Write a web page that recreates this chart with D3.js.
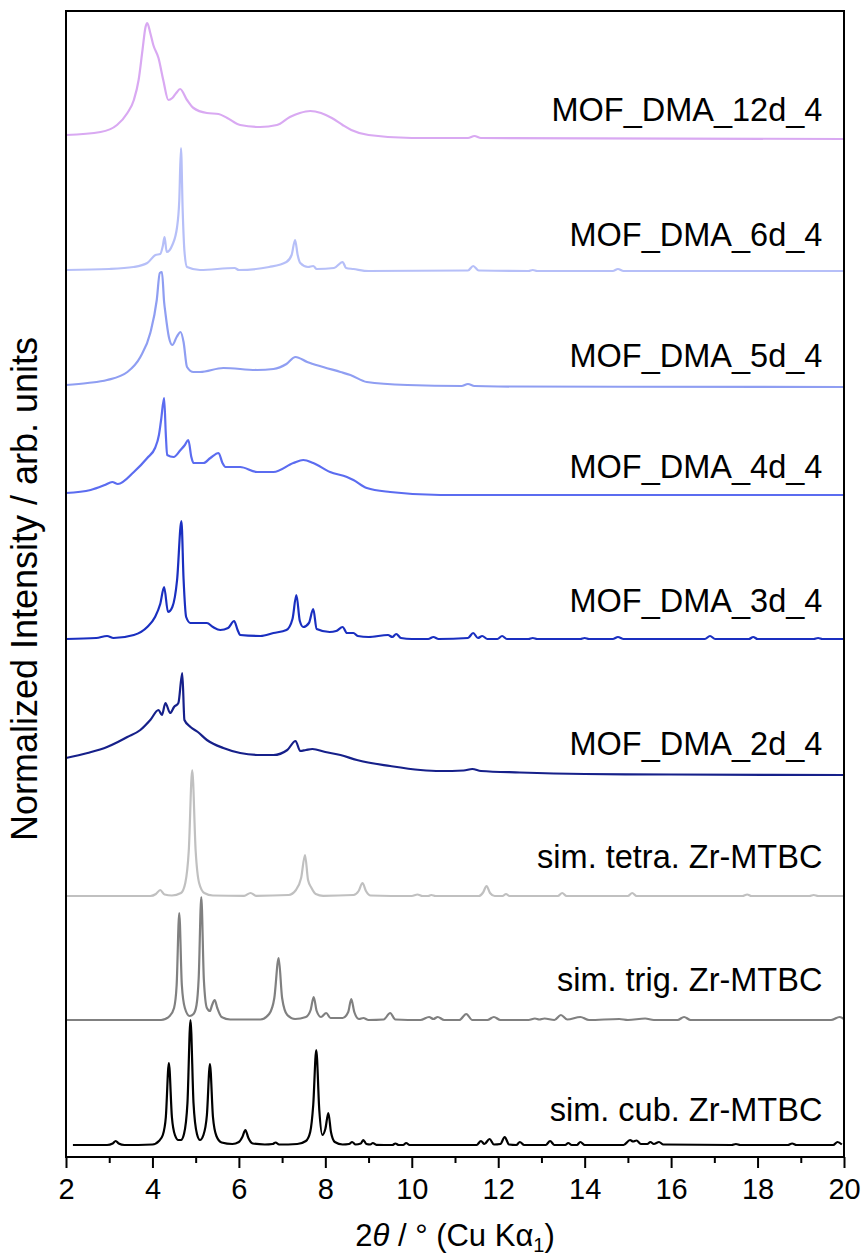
<!DOCTYPE html>
<html>
<head>
<meta charset="utf-8">
<script src="https://cdn.jsdelivr.net/npm/d3@7"></script>
<style>
  body { margin: 0; background: #ffffff; }
  svg { font-family: "Liberation Sans", Arial, sans-serif; }
</style>
</head>
<body>
<svg id="chart" width="863" height="1259"></svg>
<script>
// x axis
let xTicks = [2, 4, 6, 8, 10, 12, 14, 16, 18, 20];
let xMinorTicks = [3, 5, 7, 9, 11, 13, 15, 17, 19];

// pattern names (bottom to top), stacking offsets and label heights in intensity units
let names = ["sim. cub. Zr-MTBC", "sim. trig. Zr-MTBC", "sim. tetra. Zr-MTBC", "MOF_DMA_2d_4", "MOF_DMA_3d_4",
             "MOF_DMA_4d_4", "MOF_DMA_5d_4", "MOF_DMA_6d_4", "MOF_DMA_12d_4"];
let offsets = [1.2, 13.7, 26.1, 38.2, 51.8, 66.2, 77.0, 88.6, 101.8];
let labelLevels = [3.6, 16.6, 28.9, 40.2, 54.5, 67.9, 79.0, 91.1, 103.6];
let colors = ["#000000", "#808080", "#c0c0c0", "#16208a", "#1a2fc0", "#5b6cf0", "#8f9ef2", "#b6bff8", "#d9a9f2"];

// [2theta, normalized intensity above the pattern's baseline]
let cub = [[2.16,0],[2.95,0],[3.08,0.15],[3.15,0.4],[3.22,0.15],[3.35,0],[4.0,0.05],[4.15,0.4],[4.24,1.0],[4.31,2.8],[4.38,8.2],[4.45,2.8],[4.52,1.0],[4.6,0.5],[4.66,0.5],[4.73,1.1],[4.81,4.2],[4.88,12.5],[4.95,4.2],[5.03,1.1],[5.1,0.5],[5.18,1.0],[5.26,3.0],[5.33,8.1],[5.4,2.8],[5.48,0.9],[5.6,0.25],[5.85,0.1],[6.0,0.3],[6.08,0.8],[6.15,1.5],[6.22,0.7],[6.32,0.15],[6.6,0.05],[6.78,0.1],[6.85,0.25],[6.93,0.05],[7.35,0.1],[7.55,0.4],[7.65,1.3],[7.72,4.0],[7.79,9.5],[7.86,3.5],[7.93,1.0],[8.0,1.6],[8.07,3.2],[8.13,1.3],[8.22,0.3],[8.4,0.05],[8.55,0.1],[8.62,0.3],[8.7,0.05],[8.82,0.15],[8.88,0.5],[8.95,0.1],[9.04,0.05],[9.1,0.2],[9.18,0.02],[9.55,0],[9.62,0.15],[9.7,0],[9.8,0],[9.87,0.2],[9.95,0],[11.5,0],[11.6,0.4],[11.68,0.1],[11.8,0.6],[11.9,0.05],[12.05,0.1],[12.15,0.8],[12.25,0.05],[12.42,0],[12.5,0.3],[12.6,0],[13.1,0],[13.2,0.4],[13.3,0],[13.55,0],[13.62,0.2],[13.7,0],[13.82,0],[13.9,0.3],[14.0,0],[14.9,0],[15.05,0.5],[15.12,0.35],[15.2,0.45],[15.3,0.1],[15.45,0.1],[15.52,0.3],[15.6,0.1],[15.72,0.3],[15.82,0.05],[17.4,0],[17.5,0.1],[17.6,0],[18.7,0],[18.8,0.15],[18.9,0],[19.75,0],[19.85,0.3],[19.95,0.05]];

let trig = [[2.0,0],[4.2,0],[4.4,0.4],[4.5,1.2],[4.56,3.5],[4.62,10.7],[4.68,3.5],[4.75,1.2],[4.86,0.4],[4.95,0.6],[5.02,1.5],[5.07,4.2],[5.13,12.3],[5.19,4.0],[5.26,1.2],[5.33,0.9],[5.38,1.5],[5.44,2.0],[5.5,1.2],[5.6,0.3],[5.8,0.05],[6.5,0.05],[6.7,0.6],[6.82,2.2],[6.92,6.2],[7.0,2.2],[7.12,0.5],[7.3,0.1],[7.55,0.3],[7.66,1.0],[7.73,2.3],[7.8,0.9],[7.9,0.3],[8.02,0.7],[8.12,0.2],[8.4,0.2],[8.53,0.8],[8.6,2.1],[8.67,0.8],[8.78,0.1],[8.88,0.2],[9.0,0],[9.35,0.05],[9.5,0.7],[9.62,0.05],[10.2,0],[10.4,0.3],[10.5,0.1],[10.6,0.3],[10.75,0],[11.1,0],[11.26,0.6],[11.4,0],[11.75,0],[11.9,0.3],[12.05,0],[12.7,0],[12.85,0.15],[12.95,0.05],[13.07,0.15],[13.3,0],[13.45,0.5],[13.6,0.05],[13.9,0.3],[14.1,0],[14.8,0.1],[15.0,0],[15.4,0.15],[15.6,0],[16.15,0],[16.3,0.3],[16.45,0],[19.7,0],[19.9,0.3],[20.0,0.1]];

let tetra = [[2.0,0],[3.95,0],[4.08,0.2],[4.18,0.6],[4.28,0.15],[4.45,0.05],[4.66,0.3],[4.76,1.3],[4.84,4.5],[4.92,12.6],[5.0,4.5],[5.08,1.3],[5.2,0.3],[5.4,0.05],[6.12,0.02],[6.27,0.3],[6.4,0.02],[7.15,0.1],[7.32,0.6],[7.44,1.8],[7.53,4.1],[7.6,1.6],[7.68,0.8],[7.78,0.2],[7.95,0.02],[8.65,0.1],[8.77,0.5],[8.86,1.3],[8.94,0.5],[9.05,0.05],[10.0,0],[10.13,0.15],[10.25,0],[10.38,0],[10.45,0.1],[10.55,0],[11.55,0],[11.65,0.35],[11.73,1.0],[11.81,0.3],[11.92,0],[12.1,0],[12.18,0.2],[12.26,0],[13.38,0],[13.48,0.3],[13.58,0],[15.0,0],[15.1,0.3],[15.2,0],[17.65,0],[17.76,0.15],[17.86,0],[19.2,0],[19.3,0.1],[19.4,0],[20.0,0]];

let dma2d = [[2.0,1.7],[2.5,2.2],[2.95,2.8],[3.2,3.3],[3.42,3.8],[3.72,4.5],[3.95,5.5],[4.14,6.5],[4.22,6.0],[4.3,7.2],[4.41,6.2],[4.5,6.8],[4.6,7.2],[4.69,10.2],[4.74,5.5],[4.88,4.8],[5.05,4.3],[5.26,3.5],[5.64,2.7],[6.03,2.2],[6.5,2.0],[6.8,2.0],[7.12,2.5],[7.31,3.4],[7.42,2.4],[7.55,2.5],[7.7,2.6],[8.0,2.3],[8.35,2.0],[8.73,1.5],[9.5,0.9],[10.2,0.5],[10.66,0.4],[11.2,0.45],[11.4,0.6],[11.6,0.4],[12.5,0.25],[14.0,0.1],[16.0,0.05],[20.0,0]];

let dma3d = [[2.0,0],[2.7,0.1],[2.95,0.3],[3.1,0.1],[3.57,0.4],[3.88,1.2],[4.06,2.2],[4.18,3.5],[4.27,5.2],[4.36,2.7],[4.46,3.2],[4.57,5.9],[4.67,11.8],[4.72,6.0],[4.78,2.2],[4.88,1.6],[5.1,1.6],[5.26,1.6],[5.4,1.2],[5.57,0.9],[5.75,1.1],[5.89,1.8],[5.97,0.9],[6.03,0.4],[6.5,0.3],[6.8,0.6],[7.1,0.9],[7.24,2.0],[7.33,4.4],[7.41,1.8],[7.49,1.2],[7.62,1.6],[7.72,3.0],[7.8,1.0],[8.1,0.7],[8.25,0.8],[8.4,1.2],[8.5,0.6],[8.65,0.6],[8.75,0.3],[9.0,0.2],[9.45,0.4],[9.55,0.2],[9.64,0.5],[9.75,0.1],[10.0,0],[10.38,0],[10.5,0.2],[10.62,0],[11.3,0.1],[11.42,0.6],[11.53,0.1],[11.63,0.3],[11.75,0],[11.98,0],[12.09,0.3],[12.2,0],[12.7,0],[12.8,0.1],[12.9,0],[13.9,0],[14.0,0.1],[14.1,0],[14.65,0],[14.77,0.2],[14.9,0],[16.78,0],[16.9,0.3],[17.02,0],[17.8,0],[17.9,0.2],[18.0,0],[19.3,0],[19.4,0.1],[19.5,0],[20.0,0]];

let dma4d = [[2.0,0.2],[2.57,0.5],[2.9,1.0],[3.07,1.3],[3.2,1.1],[3.57,2.3],[3.88,3.7],[4.06,4.7],[4.15,6.0],[4.2,7.5],[4.27,9.7],[4.31,6.0],[4.34,4.0],[4.49,3.8],[4.65,4.5],[4.75,5.0],[4.83,5.5],[4.9,3.8],[4.95,3.2],[5.18,3.2],[5.34,3.7],[5.53,4.2],[5.62,3.2],[5.69,2.8],[6.03,2.8],[6.42,2.3],[6.8,2.3],[7.26,3.2],[7.49,3.5],[7.72,3.2],[8.11,2.3],[8.5,1.8],[8.65,1.5],[8.96,0.7],[9.5,0.3],[10.66,0],[20.0,0]];

let dma5d = [[2.0,0.2],[2.5,0.4],[2.95,0.7],[3.42,1.5],[3.72,3.0],[3.95,5.4],[4.1,8.7],[4.17,11.4],[4.22,11.5],[4.27,8.5],[4.3,7.4],[4.38,5.0],[4.46,4.2],[4.56,5.0],[4.65,5.5],[4.72,4.5],[4.8,2.0],[4.95,1.5],[5.1,1.5],[5.64,1.9],[6.42,1.7],[6.8,1.8],[7.1,2.3],[7.31,3.0],[7.58,2.5],[7.95,2.0],[8.35,1.5],[8.58,1.2],[8.96,0.5],[9.9,0.2],[11.15,0.1],[11.3,0.3],[11.45,0.1],[12.0,0.05],[20.0,0]];

let dma6d = [[2.0,0.1],[3.0,0.2],[3.56,0.4],[3.88,0.8],[4.07,1.6],[4.18,1.7],[4.24,2.5],[4.28,3.4],[4.33,1.9],[4.46,2.6],[4.57,4.4],[4.62,7.0],[4.66,12.3],[4.7,6.0],[4.74,2.0],[4.8,0.4],[5.1,0.1],[5.9,0.3],[6.0,0.1],[6.7,0.4],[7.1,0.9],[7.22,1.6],[7.3,3.1],[7.36,1.6],[7.42,0.8],[7.6,0.4],[7.72,0.5],[7.8,0.2],[8.2,0.3],[8.4,0.9],[8.48,0.3],[8.65,0.2],[9.0,0],[11.3,0.05],[11.42,0.5],[11.55,0.05],[12.7,0],[12.8,0.1],[12.9,0],[14.65,0],[14.77,0.2],[14.9,0],[20.0,0]];

let dma12d = [[2.0,0.4],[2.8,0.7],[3.18,1.4],[3.42,2.6],[3.57,3.9],[3.68,5.9],[3.77,8.9],[3.84,11.2],[3.88,11.6],[3.95,10.6],[4.02,9.4],[4.14,8.1],[4.25,5.9],[4.37,3.9],[4.46,4.1],[4.55,4.6],[4.64,5.0],[4.8,3.9],[4.95,3.1],[5.26,2.6],[5.53,2.5],[5.73,2.1],[6.03,1.4],[6.49,1.2],[6.88,1.4],[7.18,2.2],[7.41,2.6],[7.65,2.8],[7.9,2.6],[8.15,2.1],[8.4,1.4],[8.6,0.9],[9.0,0.4],[10.0,0.1],[11.3,0.1],[11.45,0.3],[11.6,0.1],[20.0,0]];

let patterns = [cub, trig, tetra, dma2d, dma3d, dma4d, dma5d, dma6d, dma12d];

let width = 863, height = 1259;
let margin = { top: 11, right: 19, bottom: 102, left: 66 };

let svg = d3.select('#chart');

let x = d3.scaleLinear()
    .domain([2, 20])
    .range([margin.left, width - margin.right]);

let y = d3.scaleLinear()
    .domain([0, 114.6])
    .range([height - margin.bottom, margin.top]);

let series = patterns.map(function (p, i) {
    return { name: names[i], values: p, offset: offsets[i], color: colors[i], labelY: labelLevels[i] };
});

let line = d3.line()
    .curve(d3.curveMonotoneX);

svg.append('g')
    .selectAll('path')
    .data(series)
    .join('path')
    .attr('fill', 'none')
    .attr('stroke', function (d) { return d.color; })
    .attr('stroke-width', 2.2)
    .attr('stroke-linejoin', 'round')
    .attr('d', function (d) {
        return line.x(function (p) { return x(p[0]); })
                   .y(function (p) { return y(d.offset + p[1]); })(d.values);
    });

svg.append('g')
    .selectAll('text')
    .data(series)
    .join('text')
    .attr('x', x(19.5))
    .attr('y', function (d) { return y(d.labelY); })
    .attr('text-anchor', 'end')
    .attr('font-size', 32.5)
    .attr('fill', '#000')
    .text(function (d) { return d.name; });

// bottom axis, major and minor ticks
let xAxis = svg.append('g')
    .attr('transform', 'translate(0,' + y.range()[0] + ')')
    .call(d3.axisBottom(x).tickValues(xTicks).tickSize(11).tickPadding(10).tickFormat(d3.format('d')));
xAxis.select('.domain').remove();
xAxis.selectAll('line').attr('stroke-width', 2);
xAxis.selectAll('text').attr('font-size', 29).attr('fill', '#000')
    .attr('font-family', '"Liberation Sans", Arial, sans-serif');

let xMinor = svg.append('g')
    .attr('transform', 'translate(0,' + y.range()[0] + ')')
    .call(d3.axisBottom(x).tickValues(xMinorTicks).tickSize(6).tickFormat(''));
xMinor.select('.domain').remove();
xMinor.selectAll('line').attr('stroke-width', 2);

// frame
svg.append('rect')
    .attr('x', x(2))
    .attr('y', y(114.6))
    .attr('width', x(20) - x(2))
    .attr('height', y(0) - y(114.6))
    .attr('fill', 'none')
    .attr('stroke', '#000')
    .attr('stroke-width', 2);

// axis titles
let xTitle = svg.append('text')
    .attr('x', (x(2) + x(20)) / 2)
    .attr('y', 1246)
    .attr('text-anchor', 'middle')
    .attr('font-size', 31)
    .attr('fill', '#000');
xTitle.append('tspan').text('2');
xTitle.append('tspan').attr('font-style', 'italic').text('θ');
xTitle.append('tspan').text(' / ° (Cu K');
xTitle.append('tspan').text('α');
xTitle.append('tspan').attr('font-size', 20).attr('dy', 6).text('1');
xTitle.append('tspan').attr('dy', -6).text(')');

svg.append('text')
    .attr('transform', 'rotate(-90)')
    .attr('x', -589)
    .attr('y', 37)
    .attr('text-anchor', 'middle')
    .attr('font-size', 36)
    .attr('fill', '#000')
    .text('Normalized Intensity / arb. units');
</script>
</body>
</html>
